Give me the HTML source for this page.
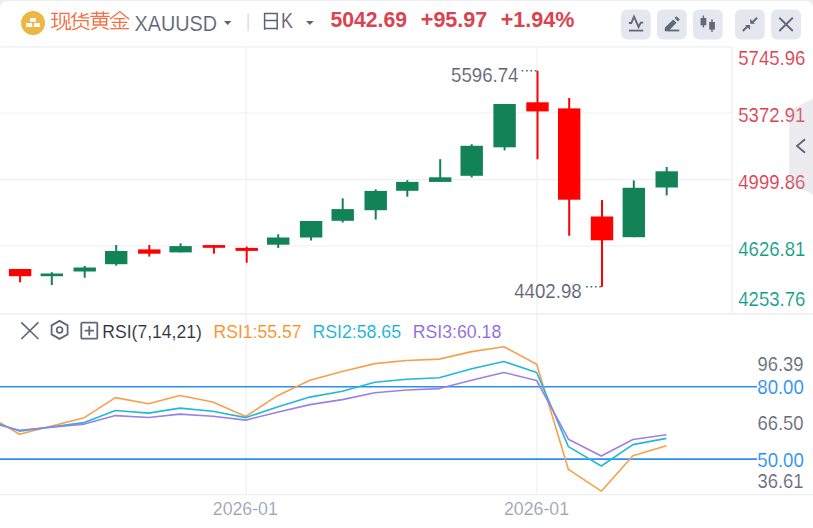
<!DOCTYPE html>
<html><head><meta charset="utf-8"><style>
html,body{margin:0;padding:0;width:813px;height:528px;overflow:hidden;background:#eceef3;font-family:"Liberation Sans", sans-serif;}
svg{display:block;}
</style></head><body>
<svg width="813" height="528" viewBox="0 0 813 528" font-family='"Liberation Sans", sans-serif'><rect x="0" y="0" width="813" height="528" fill="#eceef3"/>
<rect x="0" y="0.9" width="813" height="560" rx="7" fill="#ffffff"/>
<line x1="0" y1="46.8" x2="732.6" y2="46.8" stroke="#eceef3" stroke-width="1.3"/>
<circle cx="33.05" cy="22.9" r="12" fill="#ecb843"/>
<path d="M30.3 18 L35.8 18 L36.3 21.7 L29.8 21.7 Z M26.3 23 L31.9 23 L32.4 27 L25.9 27 Z M34.2 23 L39.8 23 L40.3 27 L33.7 27 Z" fill="#fff"/>
<path d="M51.2 13.4 H57.9 M51.2 19.3 H57.9 M54.7 13.4 V26.2 M51.2 27.6 L58.1 25.3 M60.1 24.8 V13.4 H68.9 V24.3 M64.3 15.4 V22.3 Q63.5 27.5 56.4 30.2 M66.2 19.8 V29.2 H70.2 V25.7 M76.6 12.5 L71.2 17.9 M74.4 15.4 V19.8 M81.5 12.5 V17.9 H89.4 M78 17.4 L88.4 13.7 M74.1 26.7 V20.6 H87.9 V26.5 M81 22.8 V25.7 Q78 28.5 72.1 29.7 M81.5 26.2 Q85 28.5 89.4 29.7 M91.2 13.4 H108.9 M96.6 11.2 V15.9 M103.3 11.2 V15.9 M90.2 16.4 H109.7 M93.4 25 V18.4 H106.7 V25 Z M93.4 21.8 H106.7 M100.1 18.4 V25 M96.9 27.2 L91.5 29.7 M102.3 27.2 L108.7 29.4 M109.9 19.3 L119.8 11.5 L129.1 19.3 M114.1 18.6 H124.9 M111.6 22.3 H127.4 M119.8 18.6 V28.4 M113.1 24.3 L116.1 27 M125.4 24.3 L122.5 27 M110.2 28.6 H128.9" fill="none" stroke="#f86c40" stroke-width="1.35"/>
<text x="134.5" y="30.8" font-size="21.5" fill="#5d6374" textLength="82.5" lengthAdjust="spacingAndGlyphs" stroke="#ffffff" stroke-width="0.15">XAUUSD</text>
<path d="M224 21 H231.4 L227.7 24.9 Z" fill="#5d6374"/>
<line x1="248.1" y1="13.6" x2="248.1" y2="30.8" stroke="#d5d8e0" stroke-width="1.3"/>
<path d="M264.6 29.8 V13.5 H277.2 V29.8 M264.6 20.6 H277.2 M264.6 28.6 H277.2" fill="none" stroke="#5d6374" stroke-width="1.5"/>
<text x="281" y="27.9" font-size="22" fill="#5d6374" textLength="12" lengthAdjust="spacingAndGlyphs" stroke="#ffffff" stroke-width="0.15">K</text>
<path d="M306 21 H313.7 L309.85 25 Z" fill="#5d6374"/>
<text x="330.5" y="27.4" font-size="21.5" fill="#da4350" font-weight="bold" textLength="76.5" lengthAdjust="spacingAndGlyphs">5042.69</text>
<text x="420.8" y="27.4" font-size="21.5" fill="#da4350" font-weight="bold" textLength="66.5" lengthAdjust="spacingAndGlyphs">+95.97</text>
<text x="500.8" y="27.4" font-size="21.5" fill="#da4350" font-weight="bold" textLength="73.5" lengthAdjust="spacingAndGlyphs">+1.94%</text>
<rect x="621" y="9.4" width="29.8" height="30" rx="6" fill="#e5e7ee"/>
<rect x="657" y="9.4" width="29.8" height="30" rx="6" fill="#e5e7ee"/>
<rect x="693" y="9.4" width="29.8" height="30" rx="6" fill="#e5e7ee"/>
<rect x="735" y="9.4" width="29.8" height="30" rx="6" fill="#e5e7ee"/>
<rect x="771.2" y="9.4" width="29.8" height="30" rx="6" fill="#e5e7ee"/>
<path d="M628.9 23 H631.3 L634 16.6 L638.6 27 L640.8 22.6 H643.2" fill="none" stroke="#626879" stroke-width="1.9" stroke-linejoin="miter"/>
<line x1="628.9" y1="30.6" x2="643.2" y2="30.6" stroke="#626879" stroke-width="1.8"/>
<path d="M664.8 31.3 L664.8 27.8 L673.2 19.4 L676.6 22.8 L668.2 31.3 Z M674.6 18 L676.4 16.2 L679.8 19.6 L678 21.4 Z" fill="#626879"/>
<line x1="668" y1="30.5" x2="679.2" y2="30.5" stroke="#626879" stroke-width="1.8"/>
<path d="M703.4 15.6 V27.5 M712 19.3 V31.9" stroke="#626879" stroke-width="1.4"/>
<rect x="700.6" y="18" width="5.7" height="7.3" fill="#626879"/><rect x="709.2" y="22" width="5.7" height="7.6" fill="#626879"/>
<path d="M757.1 17.7 L752 22.8 M742.8 31 L747.8 26" stroke="#626879" stroke-width="2"/>
<path d="M750.2 18.9 V23.8 H755.1 Z M745.1 24.9 H750.1 V29.9 Z" fill="#626879"/>
<path d="M779.3 17.7 L792.8 31 M792.8 17.7 L779.3 31" stroke="#626879" stroke-width="1.9"/>
<line x1="0" y1="113" x2="732" y2="113" stroke="#eef0f5" stroke-width="1.2"/>
<line x1="0" y1="179.6" x2="732" y2="179.6" stroke="#eef0f5" stroke-width="1.2"/>
<line x1="0" y1="246" x2="732" y2="246" stroke="#eef0f5" stroke-width="1.2"/>
<line x1="246.2" y1="46.5" x2="246.2" y2="494.5" stroke="#eef0f5" stroke-width="1.2"/>
<line x1="537" y1="46.5" x2="537" y2="494.5" stroke="#eef0f5" stroke-width="1.2"/>
<line x1="732" y1="46.8" x2="732" y2="314" stroke="#eceef3" stroke-width="1.2"/>
<line x1="0" y1="314" x2="813" y2="314" stroke="#eceef3" stroke-width="1.4"/>
<line x1="0" y1="494.6" x2="813" y2="494.6" stroke="#eceef3" stroke-width="1.4"/>
<rect x="19.10" y="269" width="2.0" height="13.30" fill="#ff0000"/>
<rect x="8.90" y="269" width="22.4" height="7.20" fill="#ff0000"/>
<rect x="50.80" y="272.2" width="2.0" height="12.90" fill="#128257"/>
<rect x="40.60" y="273.5" width="22.4" height="2.70" fill="#128257"/>
<rect x="83.70" y="265.9" width="2.0" height="11.80" fill="#128257"/>
<rect x="73.50" y="267.5" width="22.4" height="4.00" fill="#128257"/>
<rect x="115.20" y="245" width="2.0" height="20.70" fill="#128257"/>
<rect x="105.00" y="251" width="22.4" height="13.20" fill="#128257"/>
<rect x="148.30" y="245" width="2.0" height="11.60" fill="#ff0000"/>
<rect x="138.10" y="249.4" width="22.4" height="4.30" fill="#ff0000"/>
<rect x="179.60" y="243.3" width="2.0" height="9.10" fill="#128257"/>
<rect x="169.40" y="246.1" width="22.4" height="6.30" fill="#128257"/>
<rect x="212.90" y="245.1" width="2.0" height="8.60" fill="#ff0000"/>
<rect x="202.70" y="245.1" width="22.4" height="2.70" fill="#ff0000"/>
<rect x="245.70" y="246.6" width="2.0" height="16.10" fill="#ff0000"/>
<rect x="235.50" y="247.9" width="22.4" height="3.00" fill="#ff0000"/>
<rect x="277.20" y="234.3" width="2.0" height="13.60" fill="#128257"/>
<rect x="267.00" y="237.5" width="22.4" height="7.20" fill="#128257"/>
<rect x="310.10" y="221" width="2.0" height="19.50" fill="#128257"/>
<rect x="299.90" y="221" width="22.4" height="16.50" fill="#128257"/>
<rect x="341.70" y="198.3" width="2.0" height="24.20" fill="#128257"/>
<rect x="331.50" y="209.1" width="22.4" height="11.70" fill="#128257"/>
<rect x="374.70" y="189.4" width="2.0" height="30.10" fill="#128257"/>
<rect x="364.50" y="190.9" width="22.4" height="19.30" fill="#128257"/>
<rect x="406.30" y="180.2" width="2.0" height="16.50" fill="#128257"/>
<rect x="396.10" y="181.9" width="22.4" height="8.90" fill="#128257"/>
<rect x="439.20" y="159.2" width="2.0" height="22.70" fill="#128257"/>
<rect x="429.00" y="177.3" width="22.4" height="4.60" fill="#128257"/>
<rect x="470.70" y="144.2" width="2.0" height="33.30" fill="#128257"/>
<rect x="460.50" y="145.8" width="22.4" height="30.00" fill="#128257"/>
<rect x="503.60" y="104" width="2.0" height="46.40" fill="#128257"/>
<rect x="493.40" y="104" width="22.4" height="43.30" fill="#128257"/>
<rect x="536.50" y="70.7" width="2.0" height="88.60" fill="#ff0000"/>
<rect x="526.30" y="102.3" width="22.4" height="9.10" fill="#ff0000"/>
<rect x="568.20" y="98" width="2.0" height="137.80" fill="#ff0000"/>
<rect x="558.00" y="108.4" width="22.4" height="91.30" fill="#ff0000"/>
<rect x="601.00" y="200" width="2.0" height="86.90" fill="#ff0000"/>
<rect x="590.80" y="216.5" width="22.4" height="23.80" fill="#ff0000"/>
<rect x="632.80" y="180.4" width="2.0" height="56.80" fill="#128257"/>
<rect x="622.60" y="187.8" width="22.4" height="49.40" fill="#128257"/>
<rect x="665.70" y="167" width="2.0" height="28.40" fill="#128257"/>
<rect x="655.50" y="171.3" width="22.4" height="16.20" fill="#128257"/>
<text x="451" y="82.1" font-size="20.8" fill="#5d6374" textLength="67.5" lengthAdjust="spacingAndGlyphs" stroke="#ffffff" stroke-width="0.15">5596.74</text>
<line x1="521.6" y1="70.8" x2="537" y2="70.8" stroke="#5d6374" stroke-width="1.6" stroke-dasharray="1.7 2.7"/>
<text x="514.2" y="298.2" font-size="20.8" fill="#5d6374" textLength="67.5" lengthAdjust="spacingAndGlyphs" stroke="#ffffff" stroke-width="0.15">4402.98</text>
<line x1="586.1" y1="286.8" x2="601.5" y2="286.8" stroke="#5d6374" stroke-width="1.6" stroke-dasharray="1.7 2.7"/>
<text x="738.3" y="65.2" font-size="20.8" fill="#d9404f" textLength="67" lengthAdjust="spacingAndGlyphs" stroke="#ffffff" stroke-width="0.15">5745.96</text>
<text x="738.3" y="121.8" font-size="20.8" fill="#d9404f" textLength="67" lengthAdjust="spacingAndGlyphs" stroke="#ffffff" stroke-width="0.15">5372.91</text>
<text x="738.3" y="189.2" font-size="20.8" fill="#d9404f" textLength="67" lengthAdjust="spacingAndGlyphs" stroke="#ffffff" stroke-width="0.15">4999.86</text>
<text x="738.3" y="255.9" font-size="20.8" fill="#109d85" textLength="67" lengthAdjust="spacingAndGlyphs" stroke="#ffffff" stroke-width="0.15">4626.81</text>
<text x="738.3" y="305.5" font-size="20.8" fill="#109d85" textLength="67" lengthAdjust="spacingAndGlyphs" stroke="#ffffff" stroke-width="0.15">4253.76</text>
<path d="M789.1 110.5 L813 98.5 L813 194.5 L789.1 182.5 Z" fill="#afafc3" fill-opacity="0.25"/>
<path d="M805 139.2 L797 146 L805 152.8" fill="none" stroke="#5d6374" stroke-width="1.8"/>
<path d="M21.3 322.3 L38.4 339 M38.4 322.3 L21.3 339" stroke="#626879" stroke-width="1.7"/>
<path d="M59.6 320.9 L67.6 325.4 V334.4 L59.6 338.9 L51.6 334.4 V325.4 Z" fill="none" stroke="#626879" stroke-width="1.8"/>
<circle cx="59.6" cy="329.9" r="2.9" fill="none" stroke="#626879" stroke-width="1.7"/>
<rect x="81.3" y="322.7" width="16" height="16" rx="1" fill="none" stroke="#626879" stroke-width="1.8"/>
<path d="M84.6 330.7 H94 M89.3 326 V335.4" stroke="#626879" stroke-width="1.8"/>
<text x="102.3" y="337.8" font-size="19.2" fill="#2c2f38" textLength="99.5" lengthAdjust="spacingAndGlyphs" stroke="#ffffff" stroke-width="0.12">RSI(7,14,21)</text>
<text x="213.5" y="337.8" font-size="19.2" fill="#f98f25" textLength="88" lengthAdjust="spacingAndGlyphs" stroke="#ffffff" stroke-width="0.12">RSI1:55.57</text>
<text x="312.5" y="337.8" font-size="19.2" fill="#14b3d5" textLength="88.5" lengthAdjust="spacingAndGlyphs" stroke="#ffffff" stroke-width="0.12">RSI2:58.65</text>
<text x="412.8" y="337.8" font-size="19.2" fill="#8b66de" textLength="88.5" lengthAdjust="spacingAndGlyphs" stroke="#ffffff" stroke-width="0.12">RSI3:60.18</text>
<line x1="0" y1="386.7" x2="757" y2="386.7" stroke="#2a8ff0" stroke-width="1.6"/>
<line x1="0" y1="459.1" x2="757" y2="459.1" stroke="#2a8ff0" stroke-width="1.6"/>
<polyline points="-12.2,415.3 19.5,434.3 51.8,426.0 84.3,417.7 115.4,397.6 148.6,403.8 179.9,395.5 212.7,402.0 245.8,416.4 277.4,395.7 309.9,380.3 342.3,371.5 374.8,363.6 406.7,360.5 439.2,359.1 471.7,351.6 503.8,346.7 536.7,364.3 568.4,469.4 601.3,491.2 632.9,455.7 666.4,445.8" fill="none" stroke="#f7a04c" stroke-width="1.6" stroke-linejoin="round"/>
<polyline points="-12.2,420.2 19.5,431.1 51.8,426.9 84.3,422.6 115.4,410.5 148.6,413.1 179.9,408.1 212.7,411.3 245.8,417.6 277.4,406.9 309.9,397.1 342.3,391.2 374.8,382.3 406.7,379.2 439.2,377.8 471.7,368.8 503.8,361.5 536.7,372.5 568.4,446.6 601.3,466.0 632.9,444.6 666.4,438.4" fill="none" stroke="#22b8d8" stroke-width="1.6" stroke-linejoin="round"/>
<polyline points="-12.2,422.2 19.5,430.2 51.8,427.2 84.3,424.1 115.4,415.6 148.6,417.5 179.9,414.1 212.7,416.2 245.8,420.1 277.4,412.2 309.9,404.6 342.3,399.6 374.8,392.7 406.7,390.0 439.2,388.6 471.7,380.2 503.8,372.5 536.7,380.5 568.4,439.2 601.3,456.0 632.9,439.5 666.4,434.7" fill="none" stroke="#9e80e2" stroke-width="1.6" stroke-linejoin="round"/>
<text x="757.5" y="371" font-size="19.8" fill="#666b7b" textLength="46" lengthAdjust="spacingAndGlyphs" stroke="#ffffff" stroke-width="0.15">96.39</text>
<text x="757.3" y="393.8" font-size="19.8" fill="#2a8ff0" textLength="46.5" lengthAdjust="spacingAndGlyphs" stroke="#ffffff" stroke-width="0.15">80.00</text>
<text x="757.5" y="429.8" font-size="19.8" fill="#666b7b" textLength="46" lengthAdjust="spacingAndGlyphs" stroke="#ffffff" stroke-width="0.15">66.50</text>
<text x="757.3" y="466.6" font-size="19.8" fill="#2a8ff0" textLength="46.5" lengthAdjust="spacingAndGlyphs" stroke="#ffffff" stroke-width="0.15">50.00</text>
<text x="757.5" y="488.4" font-size="19.8" fill="#666b7b" textLength="46" lengthAdjust="spacingAndGlyphs" stroke="#ffffff" stroke-width="0.15">36.61</text>
<text x="212.8" y="514.9" font-size="19.2" fill="#9da2b5" textLength="65" lengthAdjust="spacingAndGlyphs" stroke="#ffffff" stroke-width="0.15">2026-01</text>
<text x="504" y="514.9" font-size="19.2" fill="#9da2b5" textLength="65" lengthAdjust="spacingAndGlyphs" stroke="#ffffff" stroke-width="0.15">2026-01</text></svg>
</body></html>
